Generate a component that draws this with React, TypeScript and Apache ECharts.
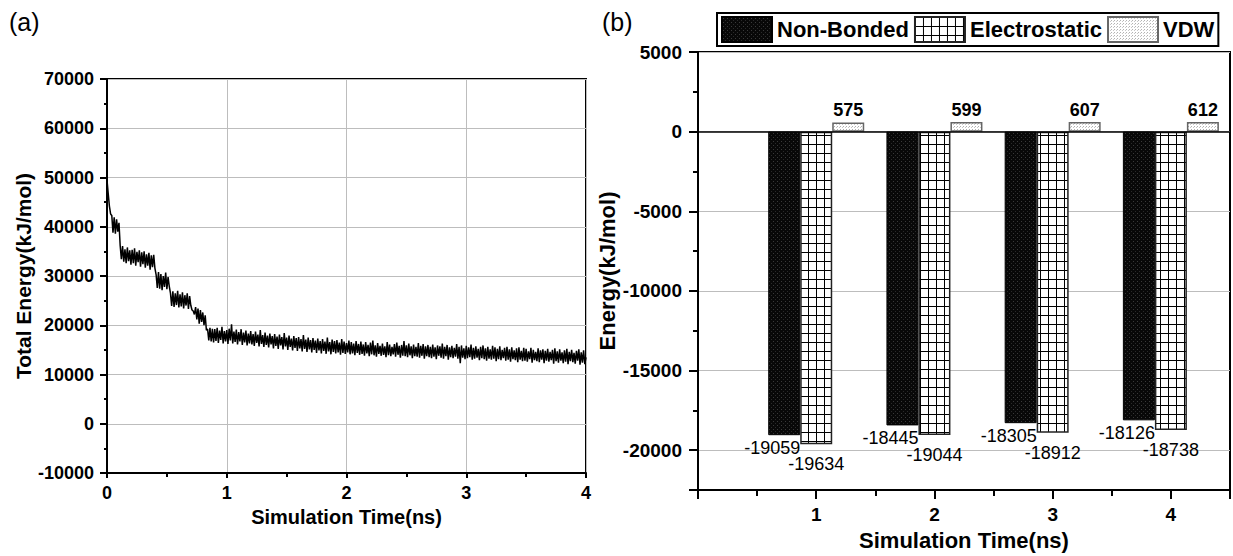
import React, { useEffect, useRef } from 'react';
import * as echarts from 'echarts';

const FONT = '"Liberation Sans", Arial, Helvetica, sans-serif';

// ---- Panel (a): total energy trajectory, one reading every 0.01 ns ----
const TIME_STEP_NS = 0.01;
const totalEnergy = [
  49500, 46800, 44200, 42600, 42300, 38800, 41900, 38600, 41500, 39000,
  40800, 36200, 33400, 36100, 32900, 35400, 32600, 35800, 33000, 35200,
  32300, 35300, 32600, 35600, 32100, 34900, 32800, 35200, 31900, 34800,
  32400, 35000, 31700, 34400, 32100, 34700, 31300, 34200, 31800, 34300,
  31600, 30300, 27600, 30800, 27400, 30400, 27100, 30000, 27800, 30700,
  27300, 29800, 27900, 26500, 23900, 26900, 23700, 26500, 24100, 27000,
  23600, 26300, 23800, 26700, 23400, 26100, 24000, 26500, 23300, 25900,
  24000, 23100, 22900, 22200, 23700, 21200, 23400, 20300, 23100, 20700,
  22600, 20000, 22000, 19000, 19200, 16900, 19500, 16700, 19300, 16500,
  19200, 16800, 19500, 16400, 18900, 17000, 19700, 16300, 18800, 16700,
  19000, 16200, 19300, 16900, 20200, 16300, 18700, 16600, 19100, 16100,
  18600, 16700, 19200, 16000, 18500, 16500, 18900, 15900, 18300, 16300,
  18800, 16100, 18200, 15800, 18700, 16400, 18100, 15700, 19000, 16200,
  18000, 15600, 18500, 16000, 17900, 15500, 18300, 16100, 17800, 15300,
  18200, 15800, 17700, 15200, 18100, 15900, 17600, 15100, 18400, 15700,
  17500, 15000, 17900, 15600, 17300, 14900, 17800, 15400, 17400, 14800,
  17600, 15300, 17200, 14700, 18000, 15200, 17100, 14600, 17500, 15100,
  17000, 14500, 17400, 15000, 16900, 14400, 17300, 14900, 16800, 14300,
  17200, 14800, 16700, 14200, 17500, 14700, 16600, 14100, 17100, 14600,
  16800, 14300, 17000, 14500, 16500, 14000, 17200, 14400, 16700, 14200,
  16400, 14500, 16900, 14100, 16600, 14300, 16300, 13900, 16800, 14400,
  16200, 14000, 16700, 14200, 16100, 13800, 16600, 14300, 16000, 13700,
  16500, 14100, 16900, 13900, 15900, 13600, 16400, 14200, 15800, 13800,
  16300, 14000, 15700, 13500, 16600, 13900, 16100, 13700, 15600, 14100,
  16200, 13600, 16500, 14000, 15800, 13400, 16000, 13800, 16800, 13700,
  15900, 13500, 16300, 13900, 15700, 13300, 16100, 13700, 15600, 13600,
  16400, 13400, 15800, 13800, 16200, 13200, 15700, 13700, 16000, 13500,
  15600, 13300, 16100, 13600, 15500, 13100, 15900, 13800, 15700, 13400,
  16300, 13200, 15600, 13700, 16000, 13000, 15500, 13500, 15800, 13300,
  15400, 13600, 16200, 13200, 15600, 12300, 15900, 13400, 15300, 13100,
  15800, 13300, 15500, 13500, 16100, 13000, 15400, 13200, 15700, 13400,
  15200, 12900, 15600, 13300, 15900, 13100, 15300, 12800, 15600, 13200,
  15100, 13000, 15800, 13200, 15500, 12700, 15200, 13100, 15700, 12900,
  15000, 13300, 15400, 12800, 15600, 13000, 15100, 12600, 15500, 13100,
  14900, 12900, 15300, 12500, 15500, 13000, 14800, 12700, 15400, 12800,
  15200, 12600, 14700, 13100, 15400, 12400, 15000, 12900, 14600, 12700,
  15300, 12500, 14900, 13000, 15100, 12300, 14800, 12800, 15200, 12600,
  14600, 12900, 15000, 12200, 15300, 12700, 14700, 12400, 15100, 12800,
  14500, 12300, 14900, 12600, 15200, 12100, 14600, 12700, 15000, 12500,
  14400, 12200, 14800, 12800, 15100, 12000, 14500, 12400, 14900, 12100,
  13500,
];

// ---- Panel (b): energy components ----
const barTimes = [1, 2, 3, 4];
const nonBonded = [-19059, -18445, -18305, -18126];
const electrostatic = [-19634, -19044, -18912, -18738];
const vdw = [575, 599, 607, 612];
const seriesNames = ['Non-Bonded', 'Electrostatic', 'VDW'];

function makeTile(w: number, h: number, draw: (ctx: CanvasRenderingContext2D) => void) {
  const c = document.createElement('canvas');
  c.width = w;
  c.height = h;
  const ctx = c.getContext('2d') as CanvasRenderingContext2D;
  draw(ctx);
  return { image: c.toDataURL(), repeat: 'repeat', imageWidth: w, imageHeight: h };
}

export default function App() {
  const ref = useRef<HTMLDivElement>(null);

  useEffect(() => {
    if (!ref.current) return;
    const chart = echarts.init(ref.current, undefined, { renderer: 'svg' });

    const darkPattern = makeTile(4, 4, (ctx) => {
      ctx.fillStyle = '#080808';
      ctx.fillRect(0, 0, 4, 4);
      ctx.fillStyle = '#3a3a3a';
      ctx.fillRect(1, 1, 1, 1);
      ctx.fillStyle = '#2a2a2a';
      ctx.fillRect(3, 3, 1, 1);
    });
    const gridPattern = makeTile(8, 9, (ctx) => {
      ctx.fillStyle = '#ffffff';
      ctx.fillRect(0, 0, 8, 9);
      ctx.fillStyle = '#000000';
      ctx.fillRect(0, 0, 8, 1);
      ctx.fillRect(0, 0, 1, 9);
    });
    const dotPattern = makeTile(3, 3, (ctx) => {
      ctx.fillStyle = '#ffffff';
      ctx.fillRect(0, 0, 3, 3);
      ctx.fillStyle = '#b0b0b0';
      ctx.fillRect(0, 0, 1, 1);
      ctx.fillStyle = '#c8c8c8';
      ctx.fillRect(2, 1, 1, 1);
    });

    const tickLabel = { color: '#000', fontFamily: FONT, fontWeight: 'bold' as const, fontSize: 18 };
    const nameStyle = { color: '#000', fontFamily: FONT, fontWeight: 'bold' as const, fontSize: 21 };
    const axisLine = { show: true, onZero: false, lineStyle: { color: '#000', width: 2 } };
    const gridLine = { show: true, lineStyle: { color: '#bdbdbd', width: 1 } };
    const plain = (v: number) => String(v);

    const lineData = totalEnergy.map((v, i) => [i * TIME_STEP_NS, v]);

    const barLabelBase = { show: true, fontFamily: FONT, fontSize: 18, color: '#000' };

    chart.setOption({
      animation: false,
      backgroundColor: '#fff',
      graphic: [
        { type: 'text', left: 9, top: 9, style: { text: '(a)', font: `25px ${FONT}`, fill: '#000' } },
        { type: 'text', left: 602, top: 9, style: { text: '(b)', font: `25px ${FONT}`, fill: '#000' } },
      ],
      legend: {
        left: 717,
        top: 13,
        orient: 'horizontal',
        icon: 'rect',
        itemWidth: 50,
        itemHeight: 25,
        itemGap: 5,
        padding: [3, 4, 3, 4],
        borderColor: '#000',
        borderWidth: 2,
        data: seriesNames,
        textStyle: { color: '#000', fontFamily: FONT, fontWeight: 'bold', fontSize: 22 },
      },
      grid: [
        { left: 107, top: 79, width: 479, height: 394, show: true, borderColor: '#000', borderWidth: 2, backgroundColor: 'transparent' },
        { left: 698, top: 52, width: 533, height: 441, show: true, borderColor: '#000', borderWidth: 2, backgroundColor: 'transparent' },
      ],
      xAxis: [
        {
          type: 'value', gridIndex: 0, min: 0, max: 4, interval: 1,
          axisLine, axisTick: { show: true, length: 5, lineStyle: { color: '#000', width: 2 } },
          minorTick: { show: true, splitNumber: 2, length: 4, lineStyle: { color: '#000', width: 2 } },
          axisLabel: { ...tickLabel, margin: 11, formatter: plain },
          splitLine: gridLine,
          name: 'Simulation Time(ns)', nameLocation: 'middle', nameGap: 31,
          nameTextStyle: { ...nameStyle, fontSize: 20 },
        },
        {
          type: 'value', gridIndex: 1, min: 0, max: 4.5, interval: 1,
          axisLine, axisTick: { show: true, length: 9, lineStyle: { color: '#000', width: 2 } },
          minorTick: { show: true, splitNumber: 2, length: 6, lineStyle: { color: '#000', width: 2 } },
          axisLabel: {
            ...tickLabel, fontSize: 19, margin: 15,
            formatter: (v: number) => (barTimes.indexOf(v) >= 0 ? String(v) : ''),
          },
          splitLine: { show: false },
          name: 'Simulation Time(ns)', nameLocation: 'middle', nameGap: 39,
          nameTextStyle: { ...nameStyle, fontSize: 22 },
        },
      ],
      yAxis: [
        {
          type: 'value', gridIndex: 0, min: -10000, max: 70000, interval: 10000,
          axisLine, axisTick: { show: true, length: 7, lineStyle: { color: '#000', width: 2 } },
          minorTick: { show: true, splitNumber: 2, length: 3, lineStyle: { color: '#000', width: 2 } },
          axisLabel: { ...tickLabel, margin: 13, formatter: plain },
          splitLine: gridLine,
          name: 'Total Energy(kJ/mol)', nameLocation: 'middle', nameGap: 70, nameTextStyle: nameStyle,
        },
        {
          type: 'value', gridIndex: 1, min: -22500, max: 5000, minInterval: 5000, maxInterval: 5000,
          axisLine, axisTick: { show: true, length: 9, lineStyle: { color: '#000', width: 2 } },
          minorTick: { show: true, splitNumber: 2, length: 5, lineStyle: { color: '#000', width: 2 } },
          axisLabel: {
            ...tickLabel, fontSize: 19, margin: 16,
            formatter: (v: number) => (v % 5000 === 0 ? String(v) : ''),
          },
          splitLine: gridLine,
          name: 'Energy(kJ/mol)', nameLocation: 'middle', nameGap: 78,
          nameTextStyle: { ...nameStyle, fontSize: 22 },
        },
      ],
      series: [
        {
          type: 'line', xAxisIndex: 0, yAxisIndex: 0, data: lineData,
          showSymbol: false, symbol: 'none',
          lineStyle: { color: '#000', width: 1.5 }, z: 3,
        },
        {
          name: seriesNames[0], type: 'bar', xAxisIndex: 1, yAxisIndex: 1,
          data: barTimes.map((t, i) => [t, nonBonded[i]]),
          barWidth: 32, barGap: '0%',
          itemStyle: { color: darkPattern, borderColor: '#000', borderWidth: 1 },
          label: { ...barLabelBase, position: 'bottom', distance: 4, offset: [-12, 0] },
        },
        {
          name: seriesNames[1], type: 'bar', xAxisIndex: 1, yAxisIndex: 1,
          data: barTimes.map((t, i) => [t, electrostatic[i]]),
          barWidth: 32, barGap: '0%',
          itemStyle: { color: gridPattern, borderColor: '#222', borderWidth: 1.5 },
          label: { ...barLabelBase, position: 'bottom', distance: 4, offset: [0, 7] },
        },
        {
          name: seriesNames[2], type: 'bar', xAxisIndex: 1, yAxisIndex: 1,
          data: barTimes.map((t, i) => [t, vdw[i]]),
          barWidth: 32, barGap: '0%',
          itemStyle: { color: dotPattern, borderColor: '#666', borderWidth: 1.5 },
          label: { ...barLabelBase, fontWeight: 'bold', position: 'top', distance: 3 },
          markLine: {
            silent: true, symbol: 'none', label: { show: false },
            lineStyle: { color: '#000', width: 1.5, type: 'solid' },
            data: [{ yAxis: 0 }],
          },
        },
      ],
    });

    return () => chart.dispose();
  }, []);

  return <div ref={ref} style={{ position: 'absolute', left: 0, top: 0, width: 1233, height: 556 }} />;
}
